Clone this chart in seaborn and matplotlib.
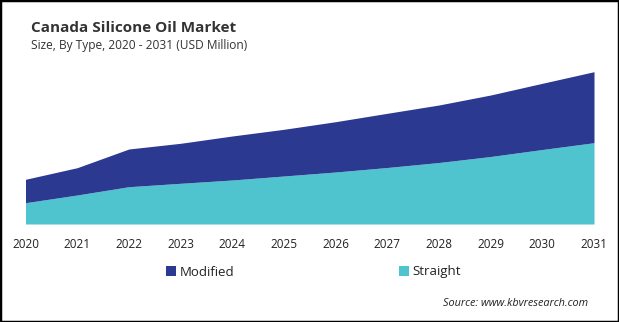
import matplotlib
matplotlib.use("Agg")
import matplotlib.pyplot as plt
import seaborn as sns
import pandas as pd
from matplotlib.patches import Patch, Rectangle

years = [2020, 2021, 2022, 2023, 2024, 2025, 2026, 2027, 2028, 2029, 2030, 2031]
straight = [21.3, 29.0, 37.3, 40.7, 44.0, 48.0, 52.0, 56.5, 61.5, 67.5, 74.5, 81.3]
modified = [23.4, 27.3, 37.7, 40.0, 44.0, 46.7, 50.3, 54.2, 57.5, 61.5, 66.2, 71.0]
series_names = ["Modified", "Straight"]
colors = {"Modified": "#2b3990", "Straight": "#4fc3ce"}

sns.set_theme(style="white")
plt.rcParams["font.family"] = ["Open Sans", "DejaVu Sans"]

W, H = 619, 322
fig = plt.figure(figsize=(W / 100, H / 100), dpi=100)
ax = fig.add_axes([25.5 / W, 1 - 224 / H, (594 - 25.5) / W, (224 - 60) / H])

df = pd.DataFrame({"year": years, "Straight": straight, "Modified": modified})
df["total"] = df["Straight"] + df["Modified"]

sns.lineplot(data=df, x="year", y="total", ax=ax, color=colors["Modified"], linewidth=0)
ax.fill_between(df["year"], 0, df["Straight"], color=colors["Straight"], linewidth=0)
ax.fill_between(df["year"], df["Straight"], df["total"], color=colors["Modified"], linewidth=0)

ax.set_xlim(2020, 2031)
ax.set_ylim(0, 164)
ax.set_xticks(years)
ax.set_xticklabels([str(y) for y in years], fontsize=8.5, color="#222222")
ax.tick_params(axis="x", length=0, pad=10)
ax.set_yticks([])
ax.set_xlabel("")
ax.set_ylabel("")
for s in ax.spines.values():
    s.set_visible(False)

fig.text(31 / W, 1 - 28 / H, "Canada Silicone Oil Market", fontsize=11, fontweight="bold",
         color="#333333", va="center", ha="left")
fig.text(31 / W, 1 - 46 / H, "Size, By Type, 2020 - 2031 (USD Million)", fontsize=8.6,
         color="#333333", va="center", ha="left")

for name, xpos in [("Modified", 166), ("Straight", 399)]:
    leg = fig.legend(handles=[Patch(facecolor=colors[name], edgecolor="none", label=name)],
                     loc="center left", bbox_to_anchor=(xpos / W, 1 - 272 / H),
                     frameon=False, fontsize=9.5, handlelength=0.75, handleheight=0.75,
                     handletextpad=0.3, borderaxespad=0, borderpad=0)
    for t in leg.get_texts():
        t.set_color("#222222")

fig.text(588 / W, 1 - 303 / H, "Source: www.kbvresearch.com", fontsize=7.8, style="italic",
         color="#222222", ha="right", va="center")

fig.patches.append(Rectangle((0, 0), 1, 1, transform=fig.transFigure, fill=False,
                             edgecolor="black", linewidth=2.5, zorder=10))

fig.savefig("out.png", dpi=100)
